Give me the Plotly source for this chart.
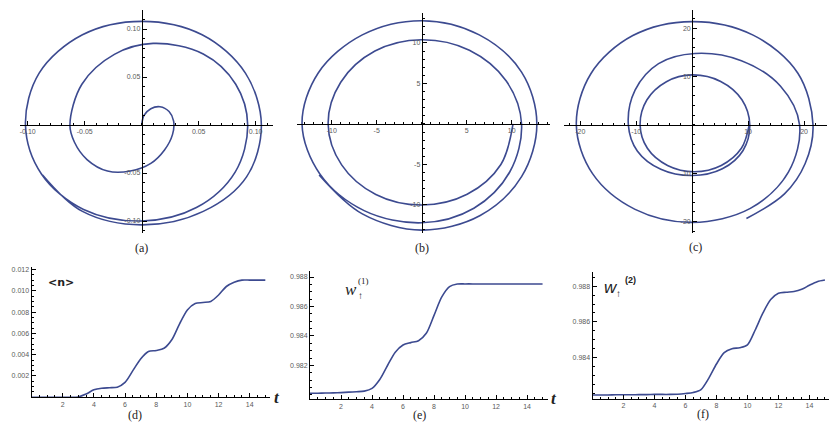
import plotly.graph_objects as go

# the page body keeps its default 8px margin, so the figure is 8px smaller
# and every pixel position below is measured on the 837x429 reference
OFF = 8
W, H = 837 - OFF, 429 - OFF
lineColor = '#3c4a90'

# ---------- data ----------
# (a) spiral, clockwise from the origin
a_x = [0.000, 0.002, 0.008, 0.016, 0.024, 0.028, 0.027, 0.020, 0.008, -0.010, -0.030, -0.048, -0.059, -0.063,
       -0.0525, -0.024, 0.010, 0.054, 0.0825, 0.093,
       0.082, 0.048, 0.000, -0.051, -0.088, -0.102, -0.090, -0.052, 0.000, 0.053, 0.091, 0.105,
       0.092, 0.054, 0.000, -0.052, -0.087]
a_y = [0.000, 0.010, 0.017, 0.019, 0.014, 0.004, -0.010, -0.026, -0.040, -0.048, -0.048, -0.036, -0.018, 0.000,
       0.0425, 0.0736, 0.085, 0.074, 0.0425, 0.000,
       -0.049, -0.086, -0.100, -0.088, -0.051, 0.000, 0.054, 0.094, 0.108, 0.094, 0.054, 0.000,
       -0.054, -0.090, -0.104, -0.090, -0.052]

# (b) spiral
b_x = [10.15, 8.8, 5.05, 0.0, -5.1, -8.9, -10.4, -9.0, -5.2, 0.0, 5.3, 9.4,
       11.1, 9.8, 5.8, 0.0, -6.4, -11.3, -13.3, -11.5, -6.6, 0.0, 6.4, 11.1,
       12.8, 11.1, 6.5, 0.0, -6.6, -11.4]
b_y = [0.0, -5.0, -8.68, -10.0, -8.7, -5.05, 0.0, 5.15, 9.0, 10.4, 9.1, 5.3,
       0.0, -5.9, -10.4, -12.2, -10.7, -6.2, 0.0, 6.3, 11.0, 12.75, 11.0, 6.4,
       0.0, -6.5, -11.3, -13.1, -11.1, -6.3]

# (c) spiral
c_x = [10.2, 8.8, 5.2, 0.4, -4.4, -8.0, -9.3, -8.1, -4.6, 0.0, 5.1, 8.9,
       10.3, 9.1, 5.4, 0.0, -5.6, -9.8, -11.4, -10.2, -6.0, 0.5, 8.8, 15.8,
       19.2, 17.2, 10.4, 0.0, -10.2, -17.8, -20.7, -18.1, -10.6, 0.0, 10.9, 18.9,
       21.6, 20.2, 16.5, 9.7]
c_y = [0.0, -4.85, -8.4, -9.7, -8.4, -4.85, 0.0, 5.15, 8.95, 10.35, 9.0, 5.2,
       0.0, -5.3, -9.1, -10.5, -9.2, -5.4, 0.0, 7.2, 12.7, 14.8, 13.3, 8.0,
       0.0, -9.8, -17.3, -20.2, -17.5, -10.1, 0.0, 10.6, 18.5, 21.4, 18.6, 10.7,
       0.0, -8.0, -14.3, -19.4]

# time grid of the lower panels
t = [0, 0.5, 1, 1.5, 2, 2.5, 3, 3.5, 4, 4.5, 5, 5.5, 6, 6.5, 7, 7.5, 8, 8.5, 9, 9.5, 10,
     10.5, 11, 11.5, 12, 12.5, 13, 13.5, 14, 14.5, 15]

# (d) <n>
n_mean = [0, 0, 0, 0, 0, 0, 0.00003, 0.0003, 0.0007, 0.00085, 0.0009, 0.00095, 0.0014, 0.0025, 0.0036,
          0.0043, 0.0044, 0.0046, 0.0054, 0.0069, 0.0082, 0.0088, 0.0089, 0.0090, 0.0096, 0.0104, 0.0108,
          0.0110, 0.0110, 0.0110, 0.0110]

# (e) w_up^(1)
w1 = [0.98012, 0.98012, 0.98013, 0.98014, 0.98016, 0.98019, 0.98022, 0.98026, 0.98045, 0.98105, 0.98200,
      0.98290, 0.98339, 0.98355, 0.98368, 0.98418, 0.98540, 0.98665, 0.98735, 0.98752, 0.98753, 0.98753,
      0.98753, 0.98753, 0.98753, 0.98753, 0.98753, 0.98753, 0.98753, 0.98753, 0.98753]

# (f) w_up^(2)
w2 = [0.98192, 0.98192, 0.98192, 0.98193, 0.98193, 0.98193, 0.98194, 0.98194, 0.98195, 0.98195, 0.98195,
      0.98196, 0.98200, 0.98206, 0.98222, 0.98285, 0.98365, 0.98428, 0.98450, 0.98456, 0.98472, 0.98555,
      0.98650, 0.98725, 0.98760, 0.98766, 0.98770, 0.98782, 0.98805, 0.98825, 0.98834]

# tick labels
a_ticks = [-0.10, -0.05, 0.05, 0.10]
a_text = ['-0.10', '-0.05', '0.05', '0.10']
b_ticks = [-10, -5, 5, 10]
c_ticks = [-20, -10, 10, 20]
t_ticks = [2, 4, 6, 8, 10, 12, 14]
d_yticks = [0.002, 0.004, 0.006, 0.008, 0.010, 0.012]
e_yticks = [0.982, 0.984, 0.986, 0.988]
f_yticks = [0.984, 0.986, 0.988]


def fx(p):
    return (p - OFF) / W


def fy(p):
    return 1 - (p - OFF) / H


tickFont = dict(family='Liberation Sans', size=7, color='#5a5a5a')


def axisStyle(tickvals, ticktext, minorStep, **kw):
    d = dict(tickmode='array', tickvals=tickvals, ticktext=ticktext, ticks='inside', ticklen=4,
             tickcolor='black', tickwidth=1, showline=True, linecolor='black', linewidth=1,
             showgrid=False, zeroline=False, tickfont=tickFont, fixedrange=True,
             minor=dict(dtick=minorStep, tick0=0, ticks='inside', ticklen=2, tickcolor='black', showgrid=False))
    d.update(kw)
    return d


fig = go.Figure()
layout = {}

# upper row: parametric plots with axes crossing at the origin
spirals = [
    (a_x, a_y, (20, 273, 10, 233), (-0.1068, 0.1152), (-0.1125, 0.1198), a_ticks, a_text, 0.01),
    (b_x, b_y, (297, 550, 13, 233), (-13.86, 14.26), (-13.46, 13.7), b_ticks, [str(v) for v in b_ticks], 1),
    (c_x, c_y, (564, 827, 10, 233), (-22.9, 24.1), (-22.4, 23.8), c_ticks, [str(v) for v in c_ticks], 2),
]

for i, (xs, ys, box, xr, yr, ticks, text, minorStep) in enumerate(spirals):
    k = i + 1
    sx = '' if k == 1 else str(k)
    x0, x1, y0, y1 = box
    xzero = x0 + (0 - xr[0]) / (xr[1] - xr[0]) * (x1 - x0)
    yzero = y1 - (0 - yr[0]) / (yr[1] - yr[0]) * (y1 - y0)
    fig.add_trace(go.Scatter(x=xs, y=ys, mode='lines', line=dict(color=lineColor, width=1.6, shape='spline'),
                             xaxis='x' + sx, yaxis='y' + sx, showlegend=False, hoverinfo='skip'))
    layout['xaxis' + sx] = axisStyle(ticks, text, minorStep, domain=[fx(x0), fx(x1)], range=list(xr),
                                     anchor='free', position=fy(yzero))
    layout['yaxis' + sx] = axisStyle(ticks, text, minorStep, domain=[fy(y1), fy(y0)], range=list(yr),
                                     anchor='free', position=fx(xzero))

# lower row: time traces
lines = [
    (n_mean, (31.5, 270, 267, 397.3), (0, 15.3), (0, 0.01223), d_yticks,
     ['0.002', '0.004', '0.006', '0.008', '0.010', '0.012']),
    (w1, (310, 548.3, 271.1, 399.4), (0, 15.37), (0.9797, 0.9884), e_yticks,
     ['0.982', '0.984', '0.986', '0.988']),
    (w2, (592.5, 835, 271.8, 398.9), (0, 15.65), (0.9817, 0.9888), f_yticks,
     ['0.984', '0.986', '0.988']),
]

for i, (vals, box, xr, yr, yt, ytt) in enumerate(lines):
    k = str(i + 4)
    x0, x1, y0, y1 = box
    fig.add_trace(go.Scatter(x=t, y=vals, mode='lines', line=dict(color=lineColor, width=1.6, shape='spline',
                                                                   smoothing=0.8),
                             xaxis='x' + k, yaxis='y' + k, showlegend=False, hoverinfo='skip'))
    layout['xaxis' + k] = axisStyle(t_ticks, [str(v) for v in t_ticks], 0.5, domain=[fx(x0), fx(x1)],
                                    range=list(xr), anchor='y' + k)
    layout['yaxis' + k] = axisStyle(yt, ytt, 0.0005, domain=[fy(y1), fy(y0)], range=list(yr), anchor='x' + k)

serif = 'Liberation Serif'
notes = [
    ('(a)', 141, 248, 12, serif),
    ('(b)', 422, 248, 12, serif),
    ('(c)', 695, 247, 12, serif),
    ('(d)', 135, 415, 12, serif),
    ('(e)', 419, 415, 12, serif),
    ('(f)', 703, 414, 12, serif),
    ('<b><i>t</i></b>', 277, 397, 17, serif),
    ('<b><i>t</i></b>', 554, 398, 17, serif),
    ('<b>&lt;n&gt;</b>', 61, 282, 11, 'DejaVu Sans'),
    ('<i>w</i>', 351, 289, 17, serif),
    ('(1)', 363, 281, 9, serif),
    ('<b>↑</b>', 360, 295, 10, serif),
    ('<i>w</i>', 611, 287, 17, 'Liberation Sans'),
    ('<b>(2)</b>', 630, 280, 9, 'Liberation Sans'),
    ('<b>↑</b>', 618, 293, 10, 'Liberation Sans'),
]
annotations = [dict(text=s, x=fx(px), y=fy(py), xref='paper', yref='paper', showarrow=False,
                    xanchor='center', yanchor='middle', font=dict(family=fam, size=sz, color='#222222'))
               for s, px, py, sz, fam in notes]

fig.update_layout(width=W, height=H, margin=dict(l=0, r=0, t=0, b=0), paper_bgcolor='white',
                  plot_bgcolor='white', annotations=annotations, **layout)

fig.write_html("out.html")
